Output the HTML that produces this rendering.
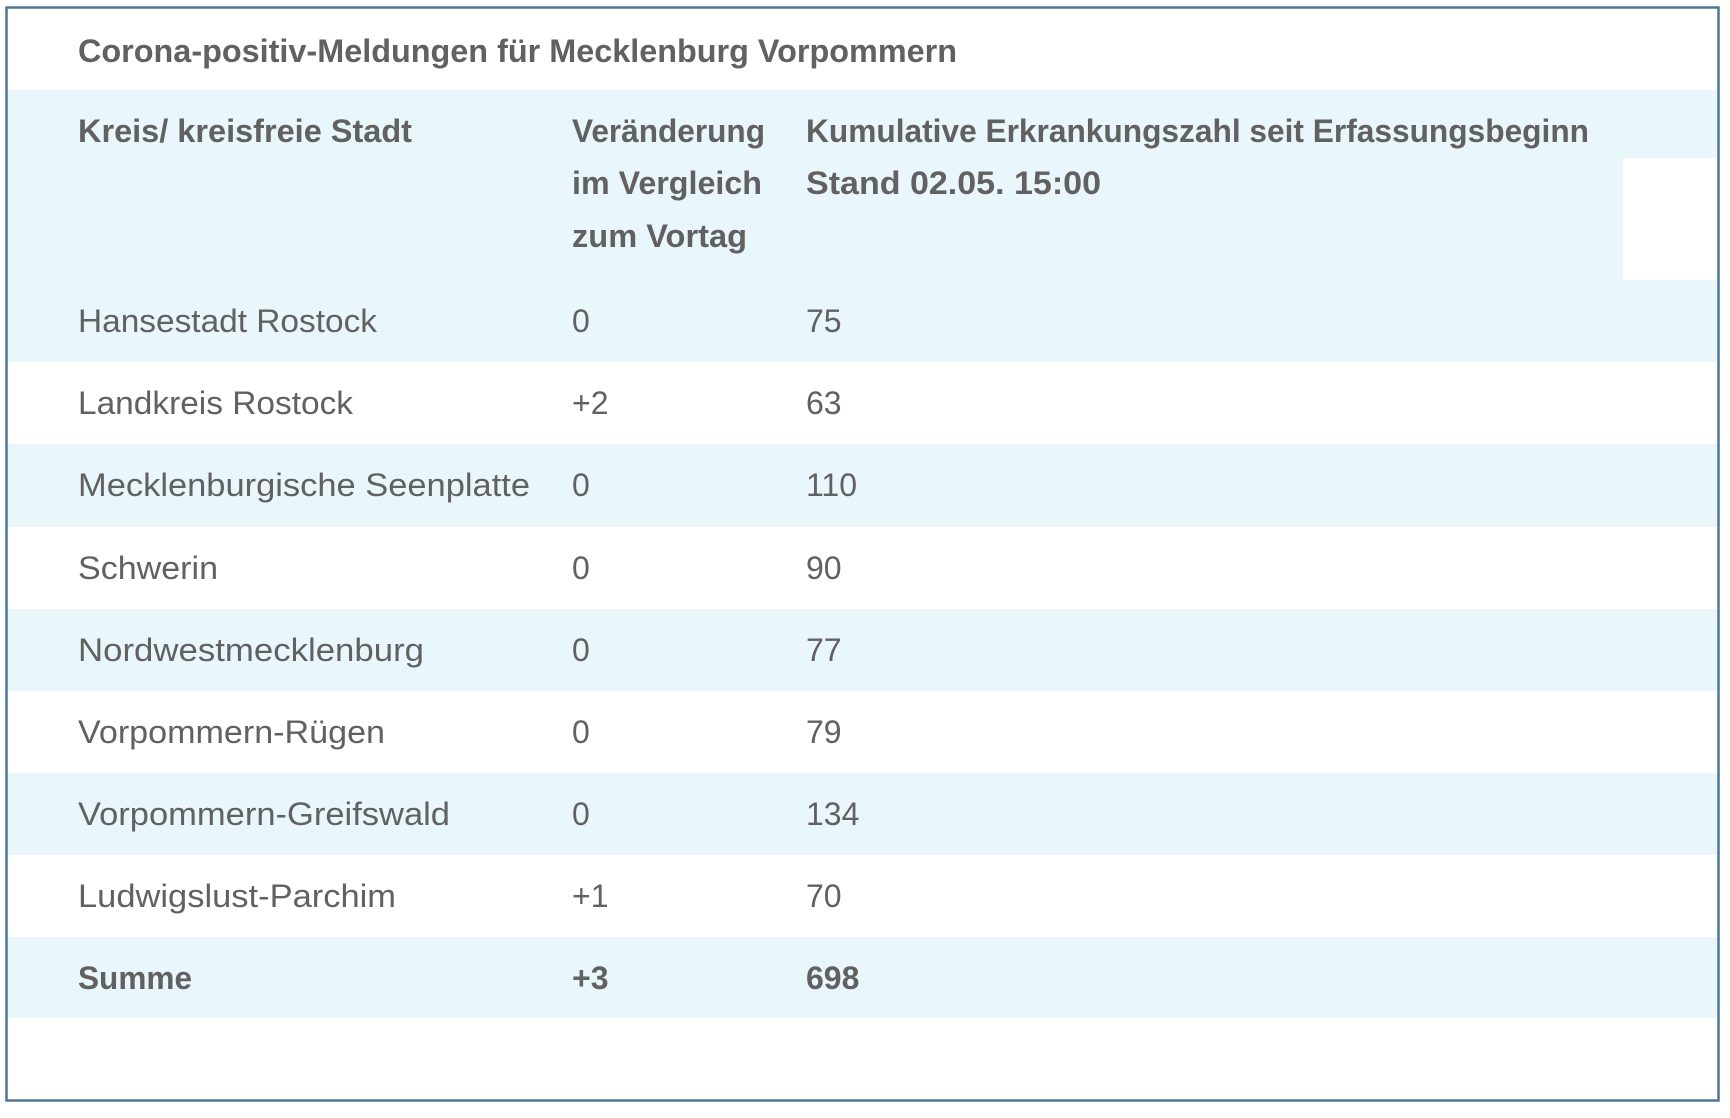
<!DOCTYPE html>
<html><head><meta charset="utf-8"><style>
html,body{margin:0;padding:0;background:#fff;width:1730px;height:1118px;overflow:hidden}
svg{display:block}
text{font-family:"Liberation Sans",sans-serif;fill:#616161;font-size:32px}
.b{font-weight:bold}
</style></head><body>
<svg width="1730" height="1118" viewBox="0 0 1730 1118">
<rect x="0" y="0" width="1730" height="1118" fill="#fff"/>
<rect x="7" y="90" width="1711" height="190" fill="#e9f6fc"/>
<rect x="1623" y="158" width="95" height="122" fill="#fff"/>
<rect x="7" y="280" width="1711" height="82" fill="#e9f6fc"/>
<rect x="7" y="444" width="1711" height="83" fill="#e9f6fc"/>
<rect x="7" y="609" width="1711" height="82" fill="#e9f6fc"/>
<rect x="7" y="773" width="1711" height="82" fill="#e9f6fc"/>
<rect x="7" y="937" width="1711" height="81" fill="#e9f6fc"/>
<rect x="6.5" y="7.5" width="1712" height="1093" fill="none" stroke="#4f7696" stroke-width="2.5"/>

<text class="b" x="78" y="62" textLength="879" lengthAdjust="spacingAndGlyphs">Corona-positiv-Meldungen für Mecklenburg Vorpommern</text>

<text class="b" x="78" y="142" textLength="334" lengthAdjust="spacingAndGlyphs">Kreis/ kreisfreie Stadt</text>
<text class="b" x="572" y="142" textLength="193" lengthAdjust="spacingAndGlyphs">Veränderung</text>
<text class="b" x="572" y="194" textLength="190" lengthAdjust="spacingAndGlyphs">im Vergleich</text>
<text class="b" x="572" y="247" textLength="175" lengthAdjust="spacingAndGlyphs">zum Vortag</text>
<text class="b" x="806" y="142" textLength="783" lengthAdjust="spacingAndGlyphs">Kumulative Erkrankungszahl seit Erfassungsbeginn</text>
<text class="b" x="806" y="194" textLength="295" lengthAdjust="spacingAndGlyphs">Stand 02.05. 15:00</text>

<text x="78" y="332" textLength="299" lengthAdjust="spacingAndGlyphs">Hansestadt Rostock</text>
<text x="572" y="332">0</text><text x="806" y="332">75</text>

<text x="78" y="414" textLength="275" lengthAdjust="spacingAndGlyphs">Landkreis Rostock</text>
<text x="572" y="414">+2</text><text x="806" y="414">63</text>

<text x="78" y="496" textLength="452" lengthAdjust="spacingAndGlyphs">Mecklenburgische Seenplatte</text>
<text x="572" y="496">0</text><text x="806" y="496">110</text>

<text x="78" y="579" textLength="140" lengthAdjust="spacingAndGlyphs">Schwerin</text>
<text x="572" y="579">0</text><text x="806" y="579">90</text>

<text x="78" y="661" textLength="346" lengthAdjust="spacingAndGlyphs">Nordwestmecklenburg</text>
<text x="572" y="661">0</text><text x="806" y="661">77</text>

<text x="78" y="743" textLength="307" lengthAdjust="spacingAndGlyphs">Vorpommern-Rügen</text>
<text x="572" y="743">0</text><text x="806" y="743">79</text>

<text x="78" y="825" textLength="372" lengthAdjust="spacingAndGlyphs">Vorpommern-Greifswald</text>
<text x="572" y="825">0</text><text x="806" y="825">134</text>

<text x="78" y="907" textLength="318" lengthAdjust="spacingAndGlyphs">Ludwigslust-Parchim</text>
<text x="572" y="907">+1</text><text x="806" y="907">70</text>

<text class="b" x="78" y="989" textLength="114" lengthAdjust="spacingAndGlyphs">Summe</text>
<text class="b" x="572" y="989">+3</text><text class="b" x="806" y="989">698</text>
</svg>
</body></html>
